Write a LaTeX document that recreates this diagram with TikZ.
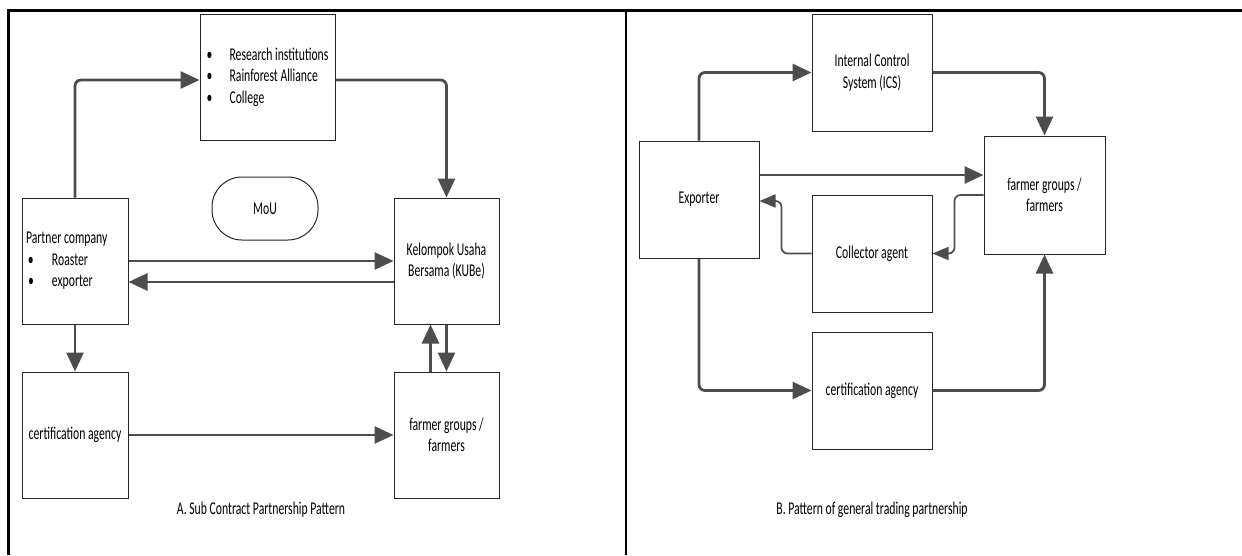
\documentclass[tikz,border=0pt]{standalone}
\usepackage{fontspec}
\setmainfont{Carlito}[FakeStretch=0.65]
\usetikzlibrary{arrows.meta}
\definecolor{arrowgray}{HTML}{4D4D4D}
\tikzstyle{mybox} = [draw=black!85, line width=1pt, rectangle,
    minimum width=106pt, minimum height=126pt, inner sep=4pt,
    align=center, font=\fontsize{18}{21.5}\selectfont]
\tikzstyle{pillbox} = [draw=black!85, line width=1pt, rounded corners=30pt,
    minimum width=106pt, minimum height=63pt, font=\fontsize{18}{21.5}\selectfont]
\tikzstyle{flowArrow} = [draw=arrowgray, line width=2.8pt, rounded corners=6pt,
    -{Triangle[length=19pt,width=17pt]}]
\tikzstyle{thinArrow} = [draw=arrowgray, line width=1.7pt, rounded corners=6pt,
    -{Triangle[length=16pt,width=13pt]}]
\tikzstyle{caption} = [font=\fontsize{18}{21.5}\selectfont]
\tikzstyle{frameline} = [line width=2.5pt, black]
\newcommand{\bul}{\makebox[23pt][l]{•}}

\begin{document}
\begin{tikzpicture}[x=1pt,y=-1pt]
\useasboundingbox (0,0) rectangle (1242,555);
% frame of the two panels
\draw[frameline] (1242,10.5) -- (8.7,10.5) -- (8.7,555);
\draw[frameline] (626,10.5) -- (626,555);

% A. sub contract
\node[mybox, minimum width=135pt, align=left]
    (research) at (267.5,77) {\bul Research institutions\\ \bul Rainforest Alliance\\ \bul College};
\node[mybox, text width=98pt, align=flush left] (partner) at (75,261)
    {Partner company\\ \hspace*{2pt}\makebox[24pt][l]{•}Roaster\\ \hspace*{2pt}\makebox[24pt][l]{•}exporter};
\node[pillbox] (mou) at (265,208.5) {MoU};
\node[mybox, minimum width=105pt] (kube) at (446.5,261) {Kelompok Usaha\\Bersama (KUBe)};
\node[mybox] (certA) at (75,435) {certification agency};
\node[mybox, minimum width=105pt] (farmA) at (446.5,435) {farmer groups /\\farmers};
\node[caption] (capA) at (261,510) {A. Sub Contract Partnership Pattern};

\draw[flowArrow] (partner.north) |- ([yshift=-3pt]research.west);
\draw[flowArrow] ([yshift=-3pt]research.east) -| (kube.north);
\draw[flowArrow] (partner.east) -- (kube.west);
\draw[flowArrow] ([yshift=-21pt]kube.west) -- ([yshift=-21pt]partner.east);
\draw[flowArrow] (partner.south) -- (certA.north);
\draw[flowArrow] ([xshift=-16pt]farmA.north) -- ([xshift=-16pt]kube.south);
\draw[flowArrow] (kube.south) -- (farmA.north);
\draw[flowArrow] (certA.east) -- (farmA.west);

% B. general trading
\node[mybox, minimum width=120pt, minimum height=117pt] (ics) at (872,72.5) {Internal Control\\System (ICS)};
\node[mybox, minimum width=120pt, minimum height=117pt] (exporter) at (699,199.5) {Exporter};
\node[mybox, minimum width=121pt, minimum height=118pt] (farmB) at (1044.5,195) {farmer groups /\\farmers};
\node[mybox, minimum width=120pt, minimum height=117pt] (collector) at (872,253.5) {Collector agent};
\node[mybox, minimum width=120pt, minimum height=117pt] (certB) at (872,390.5) {certification agency};
\node[caption] (capB) at (872,510) {B. Pattern of general trading partnership};

\draw[flowArrow] (exporter.north) |- (ics.west);
\draw[flowArrow] (ics.east) -| (farmB.north);
\coordinate (ex1) at ([yshift=24.5pt]exporter.east);
\draw[flowArrow] (ex1) -- (ex1 -| farmB.west);
\draw[thinArrow] (farmB.west) -- ++(-29,0) |- (collector.east);
\draw[thinArrow] (collector.west) -- ++(-30,0) |- ([yshift=-1.5pt]exporter.east);
\draw[flowArrow] (exporter.south) |- (certB.west);
\draw[flowArrow] (certB.east) -| (farmB.south);
\end{tikzpicture}
\end{document}
